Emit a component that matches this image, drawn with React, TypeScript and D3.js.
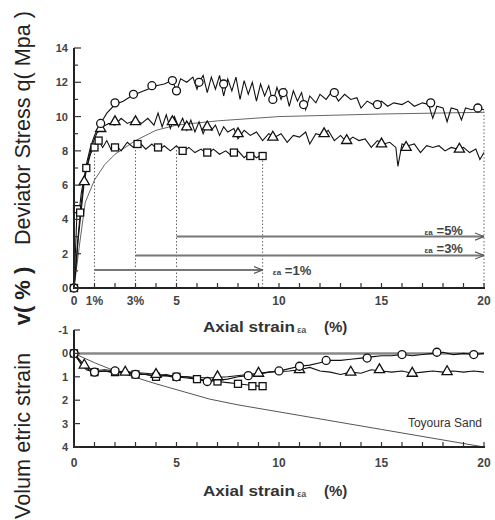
import React from "react";
import * as d3 from "d3";

type P = [number, number];

// ---- Deviator stress q (MPa) vs axial strain (%) ----
const circlesStressRaw: P[] = [[0,0],[0.1,1.5],[0.2,3],[0.3,4.3],[0.45,6],[0.6,7.2],[0.8,8.2],[1.0,8.9],[1.3,9.6],[1.6,10.2],[2.0,10.7],[2.4,10.9],[2.8,11.2],[3.2,11.4],[3.6,11.6],[4.0,11.8],[4.4,11.9],[4.8,12.1],[5.0,11.5],[5.2,12.2],[5.5,12.0],[5.8,12.3],[6.0,11.6],[6.1,12.0],[6.3,12.4],[6.5,11.4],[6.7,12.3],[6.9,11.6],[7.1,12.4],[7.3,11.2],[7.5,12.2],[7.7,11.5],[7.9,12.3],[8.1,11.0],[8.3,12.1],[8.5,11.3],[8.7,12.0],[8.9,10.9],[9.1,11.9],[9.3,11.2],[9.5,11.8],[9.7,10.8],[9.9,11.7],[10.1,11.0],[10.3,11.6],[10.5,10.6],[10.7,11.5],[10.9,10.9],[11.1,11.4],[11.3,10.4],[11.5,11.2],[11.8,10.8],[12.0,11.3],[12.3,11.0],[12.6,11.5],[12.9,10.9],[13.2,11.3],[13.5,11.0],[13.8,11.1],[14.0,10.5],[14.3,10.9],[14.6,10.7],[15.0,10.9],[15.3,10.6],[15.6,10.8],[16.0,10.7],[16.3,10.9],[16.6,10.6],[17.0,10.8],[17.3,10.7],[17.5,9.9],[17.7,10.6],[18.0,10.5],[18.2,9.7],[18.4,10.5],[18.7,10.4],[18.9,9.8],[19.1,10.5],[19.4,10.4],[19.7,10.5],[20,10.4]];
const circlesStressMarks: P[] = [[0,0],[1.3,9.6],[2.0,10.8],[2.9,11.3],[3.8,11.8],[4.8,12.1],[5.0,11.5],[6.1,12.0],[7.3,11.9],[9.7,11.0],[10.2,11.4],[11.2,10.7],[12.7,11.4],[14.8,10.7],[17.4,10.8],[19.7,10.5]];

const trianglesStressRaw: P[] = [[0,0],[0.1,1.2],[0.2,2.8],[0.35,4.5],[0.5,6.2],[0.7,7.5],[0.9,8.4],[1.1,9.0],[1.4,9.4],[1.7,9.6],[2.0,9.5],[2.3,9.9],[2.6,9.6],[3.0,9.8],[3.3,9.6],[3.6,9.9],[3.9,9.5],[4.1,10.2],[4.3,9.4],[4.5,10.1],[4.7,9.3],[4.9,10.0],[5.1,9.4],[5.3,9.9],[5.5,9.2],[5.7,9.8],[5.9,9.1],[6.1,9.7],[6.3,9.0],[6.5,9.6],[6.7,9.2],[6.9,9.5],[7.1,8.9],[7.3,9.4],[7.5,9.1],[7.8,9.3],[8.0,8.7],[8.3,9.2],[8.6,8.9],[8.9,9.1],[9.2,8.6],[9.5,9.0],[9.8,8.8],[10.1,9.0],[10.4,8.5],[10.7,8.9],[11.0,8.8],[11.3,9.1],[11.5,8.4],[11.8,9.0],[12.1,8.9],[12.4,9.2],[12.7,8.6],[13.0,8.9],[13.3,8.5],[13.6,8.8],[13.9,8.6],[14.2,8.7],[14.5,8.2],[14.8,8.6],[15.1,8.4],[15.4,8.5],[15.7,8.2],[15.8,7.1],[16.0,8.4],[16.3,8.3],[16.6,8.4],[16.9,7.9],[17.2,8.3],[17.5,8.2],[17.8,8.3],[18.1,8.0],[18.4,8.2],[18.7,8.1],[19.0,8.2],[19.3,7.9],[19.6,8.1],[19.8,7.5],[20,7.9]];
const trianglesStressMarks: P[] = [[0.5,6.2],[1.3,9.3],[2.0,9.7],[3.0,9.7],[4.8,9.7],[5.5,9.4],[6.5,9.4],[8.0,9.0],[9.7,8.8],[12.2,9.0],[13.3,8.6],[15.0,8.4],[16.2,8.2],[18.8,8.1]];

const squaresStressRaw: P[] = [[0,0],[0.05,1.5],[0.1,3],[0.15,4.6],[0.25,4.4],[0.35,5.5],[0.5,6.5],[0.65,7.1],[0.8,7.8],[1.0,8.3],[1.2,8.6],[1.4,8.2],[1.6,8.6],[1.8,8.1],[2.0,8.4],[2.3,8.0],[2.6,8.5],[2.9,8.2],[3.2,8.5],[3.5,8.1],[3.8,8.4],[4.1,8.0],[4.4,8.3],[4.7,8.0],[5.0,8.3],[5.3,7.9],[5.6,8.2],[5.9,7.9],[6.2,8.1],[6.5,7.8],[6.8,8.1],[7.1,7.8],[7.4,8.0],[7.7,7.7],[8.0,8.0],[8.3,7.6],[8.6,7.9],[8.9,7.6],[9.2,7.8]];
const squaresStressMarks: P[] = [[0,0],[0.15,4.6],[0.3,4.4],[0.6,7.0],[1.0,8.2],[1.2,8.6],[2.0,8.2],[3.1,8.4],[4.1,8.2],[5.3,8.0],[6.5,7.9],[7.8,7.9],[8.6,7.7],[9.2,7.7]];

const toyouraStress: P[] = [[0,0],[0.3,2.8],[0.55,5],[1,6.3],[1.5,7.2],[2,7.8],[3,8.6],[4,9.2],[5,9.5],[7,9.75],[10,10.0],[15,10.15],[20,10.25]];

// ---- Volumetric strain (%) vs axial strain (%) ----
const circlesVolRaw: P[] = [[0,0],[0.3,0.4],[0.6,0.7],[1,0.8],[1.5,0.75],[2,0.8],[2.5,0.75],[3,0.85],[3.5,0.9],[4,0.95],[4.5,0.9],[5,1.0],[5.5,1.05],[6,1.1],[6.5,1.2],[7,1.15],[7.5,1.1],[8,1.0],[8.5,0.95],[9,0.9],[9.5,0.8],[10,0.75],[10.5,0.65],[11,0.55],[11.5,0.5],[12,0.4],[12.5,0.3],[13,0.3],[13.5,0.25],[14,0.2],[14.5,0.15],[15,0.1],[15.5,0.1],[16,0.05],[16.5,0.1],[17,0.05],[17.5,0.0],[18,-0.05],[18.5,0.05],[19,0.0],[19.5,0.05],[20,0.0]];
const circlesVolMarks: P[] = [[0,0],[1,0.8],[2,0.75],[3,0.9],[5,1.0],[6.5,1.2],[8.5,0.95],[10,0.75],[11,0.55],[12.3,0.3],[14.3,0.2],[16,0.05],[17.7,-0.05],[19.5,0.05]];

const trianglesVolRaw: P[] = [[0,0],[0.4,0.5],[0.8,0.75],[1.5,0.7],[2.5,0.8],[3.5,0.85],[4.5,0.95],[5.5,1.0],[6.5,1.05],[7.5,1.0],[8.5,0.9],[9.5,0.8],[10.5,0.75],[11,0.7],[11.5,0.6],[12,0.75],[12.5,0.8],[13,0.9],[13.5,0.8],[14,0.85],[14.5,0.7],[15,0.75],[15.5,0.8],[16,0.75],[16.5,0.85],[17,0.8],[17.5,0.75],[18,0.8],[18.5,0.75],[19,0.8],[19.5,0.75],[20,0.8]];
const trianglesVolMarks: P[] = [[0.5,0.5],[2.5,0.8],[4,0.9],[7,1.0],[9,0.85],[11,0.7],[13.5,0.8],[14.9,0.7],[16.5,0.85],[18.2,0.78]];

const squaresVolRaw: P[] = [[0,0],[0.5,0.5],[1,0.8],[1.5,0.75],[2,0.85],[2.5,0.8],[3,0.9],[3.5,0.9],[4,1.0],[4.5,0.95],[5,1.05],[5.5,1.0],[6,1.1],[6.5,1.15],[7,1.2],[7.5,1.25],[8,1.3],[8.5,1.35],[9,1.4],[9.2,1.4]];
const squaresVolMarks: P[] = [[0,0],[1,0.8],[2,0.8],[3,0.9],[4,1.0],[5,1.0],[6,1.1],[7,1.2],[8,1.3],[8.7,1.4],[9.2,1.4]];

const toyouraVol: P[] = [[0,0],[1,0.4],[2,0.75],[4,1.3],[6.6,1.95],[8,2.2],[10,2.5],[12,2.8],[15,3.25],[18,3.7],[20,4.0]];

// ---- annotations ----
const arrowStarts = [1, 3, 5];
const arrowEnds = [9.2, 20, 20];
const arrowLevels = [1.05, 1.9, 3.0];
const arrowLabels = ["=1%", "=3%", "=5%"];
const dottedStrains = [1, 3, 5, 9.2, 20];
const dottedTops = [8.3, 8.4, 8.2, 7.8, 10.4];

const topXTicks = [0, 1, 3, 5, 10, 15, 20];
const topXTickLabels = ["0", "1%", "3%", "5", "10", "15", "20"];
const topYTicks = [0, 2, 4, 6, 8, 10, 12, 14];
const botXTicks = [0, 5, 10, 15, 20];
const botYTicks = [-1, 0, 1, 2, 3, 4];

const FONT = "Liberation Sans, Arial, sans-serif";
const LBL = "#444";

export default function App() {
  const x = d3.scaleLinear().domain([0, 20]).range([74, 484]);
  const yT = d3.scaleLinear().domain([0, 14]).range([288, 48]);
  const yB = d3.scaleLinear().domain([-1, 4]).range([330, 447]);

  const lineT = d3.line<P>().x(d => x(d[0])).y(d => yT(d[1]));
  const lineB = d3.line<P>().x(d => x(d[0])).y(d => yB(d[1]));
  const tri = d3.symbol().type(d3.symbolTriangle).size(45)() as string;

  const minor = d3.range(0, 21, 1);
  const yMinorT = d3.range(0, 15, 1);

  const circles = (pts: P[], y: (v: number) => number, k: string) =>
    pts.map((d, i) => (
      <circle key={k + i} cx={x(d[0])} cy={y(d[1])} r={4} fill="white" stroke="#111" strokeWidth={1.3} />
    ));
  const squares = (pts: P[], y: (v: number) => number, k: string) =>
    pts.map((d, i) => (
      <rect key={k + i} x={x(d[0]) - 3.5} y={y(d[1]) - 3.5} width={7} height={7} fill="white" stroke="#111" strokeWidth={1.3} />
    ));
  const triangles = (pts: P[], y: (v: number) => number, k: string) =>
    pts.map((d, i) => (
      <path key={k + i} d={tri} transform={`translate(${x(d[0])},${y(d[1])})`} fill="white" stroke="#111" strokeWidth={1.3} />
    ));

  return (
    <svg width={495} height={520} style={{ position: "absolute", left: 0, top: 0, background: "white" }} fontFamily={FONT}>
      <defs>
        <marker id="arr" viewBox="0 0 10 10" refX={10} refY={5} markerWidth={9} markerHeight={9} orient="auto" markerUnits="userSpaceOnUse">
          <path d="M0,1 L10,5 L0,9" fill="none" stroke="#555" strokeWidth={1.2} />
        </marker>
      </defs>

      {/* Y-axis title */}
      <text transform="translate(30,128) rotate(-90)" textAnchor="middle" fontSize={22} fill="#222" textLength={234} lengthAdjust="spacingAndGlyphs">Deviator Stress q( Mpa )</text>
      <text transform="translate(30,296) rotate(-90)" textAnchor="middle" fontSize={22} fontWeight="bold" fill="#222">v( % )</text>
      <text transform="translate(30,436) rotate(-90)" textAnchor="middle" fontSize={22} fill="#222" textLength={166} lengthAdjust="spacingAndGlyphs">Volum etric strain</text>

      {/* ===== Top panel ===== */}
      {dottedStrains.map((s, i) => (
        <line key={"dot" + i} x1={x(s)} x2={x(s)} y1={yT(0)} y2={yT(dottedTops[i])} stroke="#666" strokeWidth={1} strokeDasharray="1.5,2" />
      ))}
      {arrowStarts.map((s, i) => (
        <g key={"arr" + i}>
          <line x1={x(s)} x2={x(arrowEnds[i])} y1={yT(arrowLevels[i])} y2={yT(arrowLevels[i])} stroke="#777" strokeWidth={2} markerEnd="url(#arr)" />
        </g>
      ))}
      {/* arrow labels */}
      <text x={x(9.7)} y={yT(arrowLevels[0]) + 5} fontSize={8} fill={LBL} fontWeight="bold">εa</text>
      <text x={x(9.7) + 12} y={yT(arrowLevels[0]) + 5} fontSize={13} fill={LBL} fontWeight="bold">{arrowLabels[0]}</text>
      <text x={x(17.1)} y={yT(arrowLevels[1]) - 2} fontSize={8} fill={LBL} fontWeight="bold">εa</text>
      <text x={x(17.1) + 12} y={yT(arrowLevels[1]) - 2} fontSize={13} fill={LBL} fontWeight="bold">{arrowLabels[1]}</text>
      <text x={x(17.1)} y={yT(arrowLevels[2]) - 2} fontSize={8} fill={LBL} fontWeight="bold">εa</text>
      <text x={x(17.1) + 12} y={yT(arrowLevels[2]) - 2} fontSize={13} fill={LBL} fontWeight="bold">{arrowLabels[2]}</text>

      <path d={lineT(toyouraStress) as string} fill="none" stroke="#666" strokeWidth={1} />
      <path d={lineT(circlesStressRaw) as string} fill="none" stroke="#111" strokeWidth={1.1} />
      <path d={lineT(trianglesStressRaw) as string} fill="none" stroke="#111" strokeWidth={1.1} />
      <path d={lineT(squaresStressRaw) as string} fill="none" stroke="#111" strokeWidth={1.1} />
      {squares(squaresStressMarks, yT, "sq")}
      {triangles(trianglesStressMarks, yT, "tr")}
      {circles(circlesStressMarks, yT, "ci")}

      {/* axes top */}
      <line x1={74} x2={74} y1={yT(14)} y2={yT(0)} stroke="#222" strokeWidth={2} />
      <line x1={73} x2={485} y1={yT(0)} y2={yT(0)} stroke="#222" strokeWidth={2} />
      {minor.map(m => (
        <line key={"xtT" + m} x1={x(m)} x2={x(m)} y1={yT(0)} y2={yT(0) - 5} stroke="#333" strokeWidth={1.2} />
      ))}
      {yMinorT.map(m => (
        <line key={"ytT" + m} x1={74} x2={m % 2 === 0 ? 81 : 78} y1={yT(m)} y2={yT(m)} stroke="#333" strokeWidth={1.2} />
      ))}
      {topYTicks.map(t => (
        <text key={"ylT" + t} x={68} y={yT(t) + 4} textAnchor="end" fontSize={11} fill={LBL} fontWeight="bold">{t}</text>
      ))}
      {topXTicks.map((t, i) => (
        <text key={"xlT" + t} x={x(t)} y={305} textAnchor="middle" fontSize={12} fill={LBL} fontWeight="bold">{topXTickLabels[i]}</text>
      ))}
      <text x={203} y={332} fontSize={15} fill="#333" fontWeight="bold" textLength={92} lengthAdjust="spacingAndGlyphs">Axial strain</text>
      <text x={297} y={333} fontSize={9} fill="#555" fontWeight="bold">εa</text>
      <text x={324} y={332} fontSize={15} fill="#333" fontWeight="bold">(%)</text>

      {/* ===== Bottom panel ===== */}
      <line x1={74} x2={484} y1={yB(0)} y2={yB(0)} stroke="#888" strokeWidth={2.5} />
      <path d={lineB(toyouraVol) as string} fill="none" stroke="#555" strokeWidth={1} />
      <path d={lineB(circlesVolRaw) as string} fill="none" stroke="#111" strokeWidth={1.1} />
      <path d={lineB(trianglesVolRaw) as string} fill="none" stroke="#111" strokeWidth={1.1} />
      <path d={lineB(squaresVolRaw) as string} fill="none" stroke="#111" strokeWidth={1.1} />
      {squares(squaresVolMarks, yB, "sqb")}
      {triangles(trianglesVolMarks, yB, "trb")}
      {circles(circlesVolMarks, yB, "cib")}
      <text x={482} y={427} textAnchor="end" fontSize={12} fill="#333">Toyoura Sand</text>

      <line x1={74} x2={74} y1={yB(-1)} y2={yB(4)} stroke="#222" strokeWidth={2} />
      <line x1={73} x2={485} y1={yB(4)} y2={yB(4)} stroke="#222" strokeWidth={2} />
      {minor.map(m => (
        <line key={"xtB" + m} x1={x(m)} x2={x(m)} y1={yB(4)} y2={yB(4) - 5} stroke="#333" strokeWidth={1.2} />
      ))}
      {botYTicks.map(t => (
        <line key={"ytB" + t} x1={74} x2={80} y1={yB(t)} y2={yB(t)} stroke="#333" strokeWidth={1.2} />
      ))}
      {botYTicks.map(t => (
        <text key={"ylB" + t} x={68} y={yB(t) + 4} textAnchor="end" fontSize={11} fill={LBL} fontWeight="bold">{t}</text>
      ))}
      {botXTicks.map(t => (
        <text key={"xlB" + t} x={x(t)} y={467} textAnchor="middle" fontSize={12} fill={LBL} fontWeight="bold">{t}</text>
      ))}
      <text x={203} y={496} fontSize={15} fill="#333" fontWeight="bold" textLength={92} lengthAdjust="spacingAndGlyphs">Axial strain</text>
      <text x={297} y={497} fontSize={9} fill="#555" fontWeight="bold">εa</text>
      <text x={324} y={496} fontSize={15} fill="#333" fontWeight="bold">(%)</text>
    </svg>
  );
}
